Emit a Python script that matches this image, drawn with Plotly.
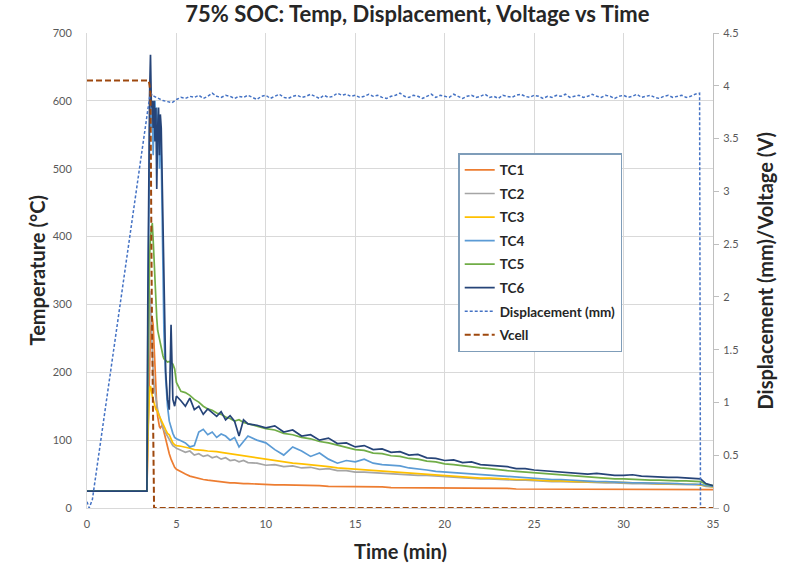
import plotly.graph_objects as go

# ---------------- data ----------------
t_tc = [0, 3.35, 3.40, 3.45, 3.50, 3.55, 3.60, 3.65, 3.70, 3.75, 3.80, 3.85, 3.90, 3.95, 4.00,
        4.05, 4.10, 4.15, 4.20, 4.25, 4.30,
        4.4, 4.5, 4.6, 4.7, 4.8, 4.9, 5.0,
        5.25, 5.5, 5.75, 6.0, 6.25, 6.5, 6.75, 7.0, 7.25, 7.5, 7.75, 8.0, 8.25, 8.5, 8.75, 9.0,
        9.5, 10.0, 10.5, 11.0, 11.5, 12.0, 12.5, 13.0, 13.5, 14.0, 14.5, 15.0, 15.5, 16.0, 16.5,
        17.0, 17.5, 18.0, 18.5, 19.0, 19.5, 20.0, 20.5, 21.0, 21.5, 22.0, 22.5, 23.0, 23.5, 24.0,
        24.5, 25.0, 25.5, 26.0, 26.5, 27.0, 27.5, 28.0, 28.5, 29.0, 29.5, 30.0, 30.5, 31.0, 31.5,
        32.0, 32.5, 33.0, 33.5, 34.0,
        34.3, 34.6, 35.0]

tc1 = [25,
       25, 90, 160, 220, 260, 275, 280, 270, 240, 200, 170, 150, 135, 125, 120, 118, 120, 122, 118, 112,
       100, 88, 80, 72, 65, 60, 57,
       53, 50, 47, 45, 43, 42, 41, 40, 39, 38, 38, 37, 37, 36, 36, 36,
       35, 35, 34, 34, 34, 33, 33, 33, 32, 32, 32, 31, 31, 31, 31, 30, 30, 30, 30, 30, 30,
       29, 29, 29, 29, 29, 29, 29, 29,
       28, 28, 28, 28, 28, 28, 28, 28, 28, 28, 28, 28, 28, 28,
       27, 27, 27, 27, 27, 27, 27,
       27, 27, 27]

tc2 = [25,
       25, 150, 250, 320, 300, 260, 230, 200, 180, 170, 160, 150, 145, 140, 135, 130, 125, 120, 118, 115,
       110, 105, 100, 96, 92, 90, 88,
       85, 82, 84, 78, 80, 76, 78, 74, 76, 72, 74, 70, 71, 68, 70, 67,
       66, 63, 64, 61, 62, 59, 60, 57, 58, 55, 55, 53, 53, 52, 51, 50, 50, 49, 48, 48, 47,
       46, 45, 45, 44, 43, 43, 42, 42, 41, 41, 40, 40, 39, 39, 38, 38, 38, 37, 37, 37,
       36, 36, 36, 35, 35, 35, 35, 34, 34,
       34, 32, 31]

tc3 = [25,
       25, 110, 150, 175, 180, 170, 165, 160, 155, 150, 145, 145, 140, 138, 135, 132, 128, 125, 122, 120,
       115, 110, 108, 102, 96, 93, 92,
       91, 90, 88, 86, 86, 85, 84, 84, 83, 82, 81, 80, 79, 78, 77, 75,
       73, 71, 70, 68, 66, 65, 64, 62, 61, 59, 58, 57, 56, 55, 54, 53, 52, 51, 50, 49, 48,
       47, 46, 46, 45, 44, 44, 43, 43, 42, 42, 41, 41, 40, 40, 39, 39, 39, 38, 38, 38,
       37, 37, 37, 36, 36, 36, 35, 35, 35,
       34, 32, 31]

tc4 = [25,
       25, 250, 450, 560, 590, 560, 590, 520, 580, 600, 560, 590, 540, 580, 500, 560, 520, 440, 350, 260,
       190, 150, 128, 118, 110, 104, 102,
       99, 96, 90, 92, 112, 116, 108, 112, 104, 109, 106, 100, 104, 90, 98, 106,
       100, 96, 86, 78, 90, 84, 76, 81, 72, 66, 70, 68, 72, 66, 64, 63, 62, 59, 58, 56, 54,
       53, 52, 51, 50, 49, 49, 48, 47, 46, 45, 44, 43, 42, 42, 41, 40, 40, 39, 39, 38,
       38, 37, 37, 37, 36, 36, 36, 35, 35,
       35, 33, 32]

tc5 = [25,
       25, 180, 300, 370, 400, 415, 420, 395, 360, 330, 300, 280, 262, 255, 248, 240, 235, 228, 224, 220,
       218, 215, 216, 214, 212, 205, 185,
       172, 170, 166, 160, 156, 150, 146, 144, 140, 138, 134, 132, 128, 130, 126, 124,
       121, 117, 115, 110, 108, 104, 102, 98, 96, 93, 90, 86, 85, 81, 80, 77, 76, 73, 72, 69, 68,
       65, 64, 62, 61, 59, 58, 56, 55, 54, 53, 51, 50, 49, 48, 47, 46, 45, 45, 44, 43,
       43, 42, 42, 41, 41, 40, 40, 40, 39,
       39, 35, 33]

tc6 = [25,
       25, 300, 520, 610, 668, 590, 600, 560, 600, 540, 590, 470, 560, 590, 520, 580, 560, 480, 380, 300,
       200, 160, 145, 270, 160, 150, 165,
       158, 150, 162, 145, 150, 138, 146, 140, 135, 142, 130, 136, 128, 106, 130, 124,
       122, 118, 121, 112, 115, 106, 108, 100, 103, 95, 96, 90, 92, 86, 87, 82, 83, 78, 79, 74, 73,
       70, 71, 67, 68, 64, 63, 61, 61, 58, 58, 56, 55, 54, 53, 52, 51, 50, 51, 49, 48,
       48, 49, 47, 46, 46, 45, 45, 44, 44,
       43, 36, 33]

t_disp = [0, 0.12, 0.3, 3.55, 3.65,
          3.75, 4.0, 4.25, 4.5, 4.75, 5.0, 5.25, 5.5, 5.75, 6.0, 6.25, 6.5, 6.75, 7.0, 7.25, 7.5,
          7.75, 8.0, 8.25, 8.5, 8.75, 9.0, 9.25, 9.5, 9.75,
          10.0, 10.25, 10.5, 10.75, 11.0, 11.25, 11.5, 11.75, 12.0, 12.25, 12.5, 12.75,
          13.0, 13.25, 13.5, 13.75, 14.0, 14.25, 14.5, 14.75, 15.0, 15.25, 15.5, 15.75,
          16.0, 16.25, 16.5, 16.75, 17.0, 17.25, 17.5, 17.75, 18.0, 18.25, 18.5, 18.75,
          19.0, 19.25, 19.5, 19.75, 20.0, 20.25, 20.5, 20.75, 21.0, 21.25, 21.5, 21.75,
          22.0, 22.25, 22.5, 22.75, 23.0, 23.25, 23.5, 23.75, 24.0, 24.25, 24.5, 24.75,
          25.0, 25.25, 25.5, 25.75, 26.0, 26.25, 26.5, 26.75, 27.0, 27.25, 27.5, 27.75,
          28.0, 28.25, 28.5, 28.75, 29.0, 29.25, 29.5, 29.75, 30.0, 30.25, 30.5, 30.75,
          31.0, 31.25, 31.5, 31.75, 32.0, 32.25, 32.5, 32.75, 33.0, 33.25, 33.5, 33.75,
          34.0, 34.25,
          34.3]

disp = [0.06, 0.0, 0.08, 3.95, 3.90,
        3.90, 3.88, 3.86, 3.85, 3.84, 3.87, 3.89, 3.88, 3.90, 3.89, 3.91, 3.88, 3.90, 3.93, 3.90,
        3.89, 3.91, 3.90, 3.88, 3.90, 3.89, 3.91, 3.89, 3.87, 3.90,
        3.91, 3.88, 3.90, 3.92, 3.89, 3.88, 3.90, 3.91, 3.89, 3.90, 3.92, 3.90,
        3.88, 3.91, 3.89, 3.90, 3.93, 3.91, 3.92, 3.90, 3.91, 3.89, 3.90, 3.92,
        3.90, 3.91, 3.89, 3.88, 3.90, 3.91, 3.93, 3.90, 3.89, 3.91, 3.90, 3.88,
        3.90, 3.92, 3.89, 3.91, 3.90, 3.89, 3.92, 3.90, 3.88, 3.90, 3.91, 3.89,
        3.90, 3.92, 3.89, 3.90, 3.88, 3.91, 3.90, 3.89, 3.91, 3.92, 3.90, 3.89,
        3.91, 3.90, 3.88, 3.90, 3.89, 3.91, 3.90, 3.92, 3.89, 3.90, 3.91, 3.89,
        3.90, 3.92, 3.90, 3.89, 3.91, 3.90, 3.88, 3.90, 3.91, 3.89, 3.90, 3.92,
        3.89, 3.90, 3.91, 3.89, 3.88, 3.90, 3.91, 3.89, 3.90, 3.91, 3.89, 3.90,
        3.92, 3.93,
        0.0]

t_vcell = [0, 3.45, 3.50, 3.55, 3.62, 3.75, 35.0]
vcell = [4.05, 4.05, 4.0, 3.92, 2.0, 0.0, 0.0]

tc_names = ["TC1", "TC2", "TC3", "TC4", "TC5", "TC6"]
tc_colors = ["#ED7D31", "#A5A5A5", "#FFC000", "#5B9BD5", "#70AD47", "#264478"]
tc_values = [tc1, tc2, tc3, tc4, tc5, tc6]

chart_title = "75% SOC: Temp, Displacement, Voltage vs Time"
x_title = "Time (min)"
y_title = "Temperature (°C)"
y2_title = "Displacement (mm)/Voltage (V)"

# ---------------- figure ----------------
FONT = "Lato"
fig = go.Figure()
for name, col, vals in zip(tc_names, tc_colors, tc_values):
    fig.add_trace(go.Scatter(x=t_tc, y=vals, name=name, mode="lines", legendgroup=name,
                             line=dict(color=col, width=1.7)))

fig.add_trace(go.Scatter(x=t_disp, y=disp, name="Displacement (mm)", mode="lines", yaxis="y2",
                         legendgroup="disp", line=dict(color="#4472C4", width=1.5, dash="3px,2px")))
fig.add_trace(go.Scatter(x=t_vcell, y=vcell, name="Vcell", mode="lines", yaxis="y2",
                         legendgroup="vcell", line=dict(color="#9E480E", width=2, dash="6px,3px")))

grid = "#D9D9D9"
tickfont = dict(family=FONT, size=11, color="#595959")
titlefont = dict(family=FONT, size=20, color="#262626", weight="bold")

fig.update_layout(
    width=792, height=567,
    paper_bgcolor="white", plot_bgcolor="white",
    margin=dict(l=87, r=79, t=33, b=59, autoexpand=False),
    title=dict(text=chart_title,
               font=dict(family=FONT, size=22, color="#262626", weight="bold"),
               x=0.527, xref="container", xanchor="center",
               y=0.975, yref="container", yanchor="middle"),
    xaxis=dict(range=[0, 35], dtick=5, tick0=0, showgrid=True, gridcolor=grid, gridwidth=1,
               zeroline=False, showline=True, linecolor=grid, ticks="", tickfont=tickfont,
               ticklabelstandoff=6, automargin=False),
    yaxis=dict(range=[0, 700], dtick=100, tick0=0, showgrid=True, gridcolor=grid, gridwidth=1,
               zeroline=False, showline=True, linecolor=grid, ticks="", tickfont=tickfont,
               ticklabelstandoff=12, automargin=False),
    yaxis2=dict(range=[0, 4.5], dtick=0.5, tick0=0, overlaying="y", side="right", showgrid=False,
                zeroline=False, showline=True, linecolor="#BFBFBF", ticks="outside", ticklen=5,
                tickcolor="#BFBFBF", tickfont=tickfont, ticklabelstandoff=2, automargin=False),
    showlegend=True,
    legend=dict(x=0.593, y=0.747, xanchor="left", yanchor="top",
                bgcolor="white", bordercolor="#7F9DB9", borderwidth=1.5,
                font=dict(family=FONT, size=13.5, color="#262626", weight="bold"),
                traceorder="grouped", tracegroupgap=3),
    annotations=[
        dict(text=x_title, xref="paper", yref="paper", x=0.5, y=-0.09, xanchor="center",
             yanchor="middle", showarrow=False, font=titlefont),
        dict(text=y_title, xref="paper", yref="paper", x=-0.08, y=0.5, xanchor="center",
             yanchor="middle", showarrow=False, font=titlefont, textangle=-90),
        dict(text=y2_title, xref="paper", yref="paper", x=1.083, y=0.5, xanchor="center",
             yanchor="middle", showarrow=False, font=titlefont, textangle=-90),
    ],
)

# remove the page's default 8px body margin so the figure fills the window exactly
fig.write_html("out.html",
               config={"displayModeBar": False},
               post_script="document.body.style.margin='0';document.body.style.overflow='hidden';")
